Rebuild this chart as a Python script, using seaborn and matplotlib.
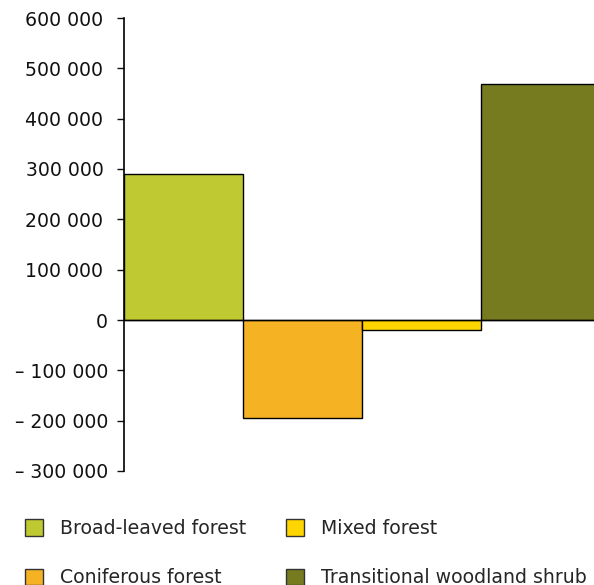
import matplotlib
matplotlib.use('Agg')
import matplotlib.pyplot as plt
import matplotlib.ticker as mticker
import pandas as pd
import seaborn as sns

### Data
categories = ['Broad-leaved forest', 'Coniferous forest', 'Mixed forest', 'Transitional woodland shrub']
values = [290000, -195000, -20000, 468000]
colors = ['#BFC932', '#F5B324', '#FFD500', '#777B20']
yticks = list(range(-300000, 600001, 100000))

df = pd.DataFrame({'category': categories, 'value': values})

sns.set_style('white')
plt.rcParams['font.family'] = ['DejaVu Sans']

fig = plt.figure(figsize=(5.94, 5.85), dpi=100)
# right edge runs past the figure, last bar is cut off as in the reference
ax = fig.add_axes([124 / 594, 114 / 585, 476 / 594, 453 / 585])

sns.barplot(data=df, x='category', y='value', hue='category',
            palette=dict(zip(categories, colors)), saturation=1, width=1.0, dodge=False,
            edgecolor='black', linewidth=1.0, legend=True, ax=ax)

ax.axhline(0, color='black', lw=1.0, zorder=5)
ax.set_xlim(-0.5, 3.5)
ax.set_ylim(-300000, 600000)
ax.set_yticks(yticks)


def fmt(v, pos):
    s = f'{abs(int(v)):,}'.replace(',', ' ')
    if v < 0:
        return '\u2013 ' + s
    if v > 0:
        return s + '\u2005'  # positive labels sit a little further left in the original
    return s


ax.yaxis.set_major_formatter(mticker.FuncFormatter(fmt))
ax.tick_params(axis='y', left=True, length=5, width=1, labelsize=13.6, pad=6.4, colors='#111111')
ax.tick_params(axis='x', bottom=False, labelbottom=False)
ax.set_xlabel('')
ax.set_ylabel('')
for side in ['top', 'right', 'bottom']:
    ax.spines[side].set_visible(False)
ax.spines['left'].set_color('black')
ax.spines['left'].set_linewidth(1.2)

handles, labels = ax.get_legend_handles_labels()
ax.get_legend().remove()
for h in handles:
    h.set_edgecolor('#333333')
fig.legend(handles, labels, ncol=2, loc='upper left',
           bbox_to_anchor=(25 / 594, 1 - 519 / 585), frameon=False,
           fontsize=13.6, handlelength=0.95, handleheight=0.95,
           handletextpad=0.9, columnspacing=2.1, labelspacing=1.6,
           borderpad=0, borderaxespad=0)

fig.savefig('out.png', dpi=100)
